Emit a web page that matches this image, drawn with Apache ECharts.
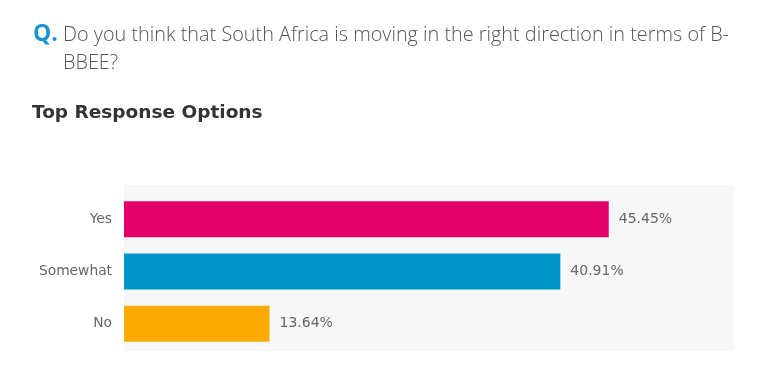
<!DOCTYPE html>
<html>
<head>
<meta charset="utf-8">
<script src="https://cdn.jsdelivr.net/npm/echarts@6/dist/echarts.min.js"></script>
<style>
html,body{margin:0;padding:0;background:#fff;}
#chart{width:768px;height:372px;}
</style>
</head>
<body>
<div id="chart"></div>
<script>
var categories = ['Yes', 'Somewhat', 'No'];
var values = [45.45, 40.91, 13.64];
var barColors = ['#e4006b', '#0094c9', '#fdaa00'];
var questionPrefix = 'Q.';
var questionText = 'Do you think that South Africa is moving in the right direction in terms of B-\nBBEE?';
var subTitle = 'Top Response Options';

var chart = echarts.init(document.getElementById('chart'));
chart.setOption({
  animation: false,
  backgroundColor: '#fff',
  title: [
    { text: questionPrefix, left: 28, top: 18, padding: 5,
      textStyle: { fontFamily: 'Open Sans', fontWeight: 'bold', fontSize: 23, color: '#1b95d0' } },
    { text: questionText, left: 58, top: 16, padding: 5,
      textStyle: { fontFamily: 'Open Sans', fontWeight: 300, fontSize: 19.85, color: '#555', lineHeight: 28 } },
    { text: subTitle, left: 27, top: 99, padding: 5,
      textStyle: { fontFamily: 'DejaVu Sans', fontWeight: 'bold', fontSize: 18.5, color: '#333' } }
  ],
  graphic: [
    { type: 'rect', z: -10, silent: true,
      shape: { x: 124, y: 185, width: 609, height: 166 },
      style: { fill: '#f7f7f7' } }
  ],
  grid: { left: 124, right: 35, top: 193, height: 157 },
  xAxis: { type: 'value', min: 0, max: 57.1, show: false },
  yAxis: {
    type: 'category', inverse: true, data: categories,
    axisLine: { show: false }, axisTick: { show: false },
    axisLabel: { fontFamily: 'DejaVu Sans', fontSize: 13.8, color: '#666', margin: 12 }
  },
  series: [{
    type: 'bar',
    barWidth: 36,
    data: values.map(function (v, i) { return { value: v, itemStyle: { color: barColors[i] } }; }),
    label: {
      show: true, position: 'right', distance: 10,
      fontFamily: 'DejaVu Sans', fontSize: 14, color: '#666',
      formatter: function (p) { return p.value.toFixed(2) + '%'; }
    }
  }]
});
</script>
</body>
</html>
